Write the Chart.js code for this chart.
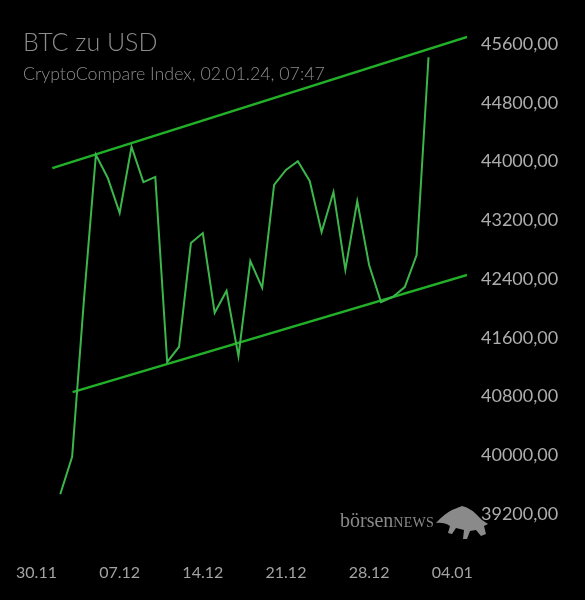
<!DOCTYPE html>
<html>
<head>
<meta charset="utf-8">
<script src="https://cdn.jsdelivr.net/npm/chart.js@4.4.0/dist/chart.umd.min.js"></script>
<style>
    html, body { margin: 0; padding: 0; background: #000; }
    .wrap { position: relative; width: 585px; height: 600px; }
    canvas { position: absolute; left: 0; top: 0; }
    .title { position: absolute; left: 23px; top: 29px; font: 300 25px Lato, sans-serif; color: #8c8c8c; line-height: 25px; }
    .subtitle { position: absolute; left: 23px; top: 64px; font: 300 17.8px Lato, sans-serif; color: #8c8c8c; line-height: 18px; }
    .brand { position: absolute; left: 340px; top: 510px; font: 20px "Liberation Serif", serif; color: #8a8a8a; line-height: 20px; }
    .brand span { font-size: 14px; letter-spacing: 0.3px; }
    .bull { position: absolute; left: 0; top: 0; }
</style>
</head>
<body>
<div class="wrap">
    <canvas id="btcChart" width="585" height="600"></canvas>
    <div class="title">BTC zu USD</div>
    <div class="subtitle">CryptoCompare Index, 02.01.24, 07:47</div>
    <div class="brand">börsen<span>NEWS</span></div>
    <svg class="bull" width="585" height="600">
        <path d="M436,523 Q444,514 452,510 L462,506 Q470,508 476,514 L482,520 L488,524 L484,526 L486,534 L481,536 L476,530 L470,531 L467,539 L463,539 L464,530 L456,528 L452,534 L448,533 L450,526 Q444,522 436,523 Z" fill="#8a8a8a"/>
    </svg>
</div>
<script>
// ===========================
// Data
// ===========================
const startDate = '2023-11-30';

const dates = [
    '2023-12-02', '2023-12-03', '2023-12-04', '2023-12-05', '2023-12-06', '2023-12-07',
    '2023-12-08', '2023-12-09', '2023-12-10', '2023-12-11', '2023-12-12', '2023-12-13',
    '2023-12-14', '2023-12-15', '2023-12-16', '2023-12-17', '2023-12-18', '2023-12-19',
    '2023-12-20', '2023-12-21', '2023-12-22', '2023-12-23', '2023-12-24', '2023-12-25',
    '2023-12-26', '2023-12-27', '2023-12-28', '2023-12-29', '2023-12-30', '2023-12-31',
    '2024-01-01', '2024-01-02'
];

const prices = [
    39470, 39980, 42130, 44090, 43775, 43300,
    44200, 43720, 43790, 41270, 41475, 42890,
    43025, 41940, 42240, 41350, 42645, 42280,
    43680, 43885, 44005, 43735, 43040, 43585,
    42525, 43460, 42590, 42085, 42155, 42290,
    42725, 45420
];

// trend channel (start / end)
const upperDates = ['2023-12-01T08:00', '2024-01-05T06:00'];
const upperValues = [43910, 45695];
const lowerDates = ['2023-12-03T01:00', '2024-01-05T06:00'];
const lowerValues = [40860, 42455];

const xTickDates = ['2023-11-30', '2023-12-07', '2023-12-14', '2023-12-21', '2023-12-28', '2024-01-04'];
const xTickLabels = ['30.11', '07.12', '14.12', '21.12', '28.12', '04.01'];
const yTicks = [39200, 40000, 40800, 41600, 42400, 43200, 44000, 44800, 45600];

// days since start
const toDay = d => (new Date(d + (d.length === 10 ? 'T00:00' : '')) - new Date(startDate + 'T00:00')) / 86400000;
const toPoints = (xs, ys) => xs.map((d, i) => ({ x: toDay(d), y: ys[i] }));
const xTickDays = xTickDates.map(toDay);

// ===========================
// Chart
// ===========================
const ctx = document.getElementById('btcChart').getContext('2d');
const btcChart = new Chart(ctx, {
    type: 'line',
    data: {
        datasets: [{
            data: toPoints(dates, prices),
            borderColor: '#3cb64b',
            borderWidth: 2,
            pointRadius: 0,
            tension: 0
        }, {
            data: toPoints(upperDates, upperValues),
            borderColor: '#22b028',
            borderWidth: 2.5,
            pointRadius: 0
        }, {
            data: toPoints(lowerDates, lowerValues),
            borderColor: '#22b028',
            borderWidth: 2.5,
            pointRadius: 0
        }]
    },
    options: {
        responsive: false,
        animation: false,
        layout: {
            padding: { left: 22, top: 14.6, right: 0, bottom: 0 }
        },
        plugins: {
            legend: { display: false },
            tooltip: { enabled: false }
        },
        scales: {
            x: {
                type: 'linear',
                min: -1.22,
                max: 36.24,
                afterBuildTicks: scale => {
                    scale.ticks = xTickDays.map(v => ({ value: v }));
                },
                afterFit: scale => {
                    scale.height = 56.6;
                    scale.paddingLeft = 0;
                    scale.paddingRight = 0;
                },
                ticks: {
                    color: '#a3a3a3',
                    font: { family: 'Lato', size: 16 },
                    padding: 12,
                    maxRotation: 0,
                    autoSkip: false,
                    callback: (v) => xTickLabels[xTickDays.indexOf(v)]
                },
                grid: { display: false },
                border: { display: false }
            },
            y: {
                position: 'right',
                min: 38800,
                max: 46000,
                afterBuildTicks: scale => {
                    scale.ticks = yTicks.map(v => ({ value: v }));
                },
                afterFit: scale => {
                    scale.width = 118;
                    scale.paddingTop = 0;
                    scale.paddingBottom = 0;
                },
                ticks: {
                    color: '#adadad',
                    font: { family: 'Lato', size: 18 },
                    padding: 14,
                    callback: v => v.toFixed(2).replace('.', ',')
                },
                grid: { display: false, drawTicks: false },
                border: { display: false }
            }
        }
    }
});
</script>
</body>
</html>
